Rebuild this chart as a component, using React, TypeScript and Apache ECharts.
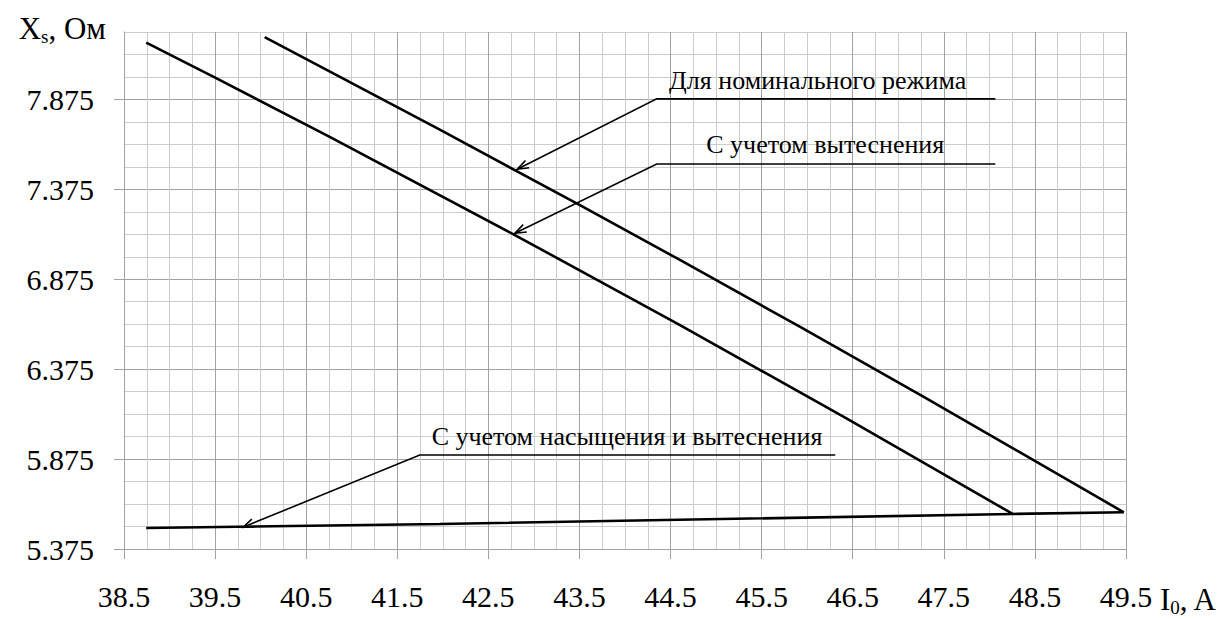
import React, { useEffect, useRef } from "react";
import * as echarts from "echarts";

// Tick labels
const xTickLabels = [38.5, 39.5, 40.5, 41.5, 42.5, 43.5, 44.5, 45.5, 46.5, 47.5, 48.5, 49.5];
const yTickLabels = [5.375, 5.875, 6.375, 6.875, 7.375, 7.875];

// "Для номинального режима"
const nominalI = [40.044, 41.967, 43.505, 44.568, 45.923, 47.275, 49.476];
const nominalX = [8.221, 7.707, 7.287, 6.992, 6.61, 6.223, 5.579];

// "С учетом вытеснения"
const displI = [38.744, 39.495, 40.758, 42.791, 44.604, 46.436, 48.256];
const displX = [8.191, 7.998, 7.667, 7.121, 6.62, 6.1, 5.57];

// "С учетом насыщения и вытеснения"
const satI = [38.744, 41.967, 48.256, 49.476];
const satX = [5.492, 5.514, 5.57, 5.579];

// Annotation anchors in data coordinates (I, Xs)
const annotationTexts = ["Для номинального режима", "С учетом вытеснения", "С учетом насыщения и вытеснения"];
const annotationTips = [[42.817, 7.487], [42.791, 7.131], [39.806, 5.496]];
const annotationElbows = [[44.348, 7.878], [44.348, 7.516], [41.747, 5.898]];
const annotationEnds = [[48.066, 7.878], [48.066, 7.516], [46.308, 5.898]];
const annotationLabels = [[46.115, 7.978], [46.198, 7.627], [44.022, 5.998]];

const FONT = "'Liberation Serif', 'Times New Roman', 'DejaVu Serif', serif";

function pairs(xs: number[], ys: number[]) {
  return xs.map((x, i) => [x, ys[i]]);
}

export default function App() {
  const ref = useRef<HTMLDivElement>(null);

  useEffect(() => {
    if (!ref.current) return;
    const chart = echarts.init(ref.current, undefined, { renderer: "svg" });
    const gridColors = ["#a2a2a2", "#cccccc", "#cccccc", "#cccccc"];
    const axisGrey = "#a2a2a2";
    const lineSeries = (name: string, data: number[][]) => ({
      name,
      type: "line",
      data,
      symbol: "none",
      xAxisIndex: 0,
      yAxisIndex: 0,
      lineStyle: { color: "#000", width: 2.6 },
      z: 5,
    });
    const mainText = { fontFamily: FONT, fontSize: 31, color: "#000" };
    const subText = { fontFamily: FONT, fontSize: 19, color: "#000", padding: [16, 0, 0, 0] };
    const option: any = {
      animation: false,
      backgroundColor: "#fff",
      textStyle: { fontFamily: FONT },
      grid: { left: 124, right: 101, top: 32, bottom: 70, containLabel: false, outerBoundsMode: "none" },
      xAxis: [
        {
          type: "value",
          min: 38.5,
          max: 49.5,
          interval: 0.25,
          axisLine: { show: true, lineStyle: { color: axisGrey, width: 1 } },
          axisTick: { show: false },
          axisLabel: { show: false },
          splitLine: { show: true, lineStyle: { color: gridColors, width: 1 } },
        },
        {
          type: "value",
          min: 38.5,
          max: 49.5,
          position: "bottom",
          name: "{a|I}{b|0}{a|, A}",
          nameLocation: "end",
          nameGap: 34,
          nameMoveOverlap: false,
          nameTextStyle: {
            align: "left",
            verticalAlign: "top",
            padding: [33, 0, 0, 0],
            rich: { a: mainText, b: subText },
          },
          axisLine: { show: false },
          axisTick: { show: true, customValues: xTickLabels, length: 10, lineStyle: { color: axisGrey } },
          axisLabel: {
            customValues: xTickLabels,
            margin: 32,
            fontFamily: FONT,
            fontSize: 30,
            color: "#000",
            formatter: (v: number) => String(v),
          },
          splitLine: { show: false },
        },
      ],
      yAxis: [
        {
          type: "value",
          min: 5.375,
          max: 8.25,
          interval: 0.125,
          axisLine: { show: true, lineStyle: { color: axisGrey, width: 1 } },
          axisTick: { show: false },
          axisLabel: { show: false },
          splitLine: { show: true, lineStyle: { color: gridColors, width: 1 } },
        },
        {
          type: "value",
          min: 5.375,
          max: 8.25,
          position: "left",
          name: "{a|X}{b|s}{a|, Ом}",
          nameLocation: "end",
          nameGap: 4,
          nameMoveOverlap: false,
          nameTextStyle: {
            align: "right",
            verticalAlign: "middle",
            padding: [0, 18, 0, 0],
            rich: { a: mainText, b: subText },
          },
          axisLine: { show: false },
          axisTick: { show: true, customValues: yTickLabels, length: 10, lineStyle: { color: axisGrey } },
          axisLabel: {
            customValues: yTickLabels,
            margin: 30,
            fontFamily: FONT,
            fontSize: 30,
            color: "#000",
            formatter: (v: number) => v.toFixed(3),
          },
          splitLine: { show: false },
        },
      ],
      series: [
        lineSeries("Для номинального режима", pairs(nominalI, nominalX)),
        lineSeries("С учетом вытеснения", pairs(displI, displX)),
        lineSeries("С учетом насыщения и вытеснения", pairs(satI, satX)),
      ],
    };
    chart.setOption(option);

    const toPx = (p: number[]) => chart.convertToPixel({ xAxisIndex: 0, yAxisIndex: 0 }, p) as number[];
    const graphics: any[] = [];
    annotationTexts.forEach((text, i) => {
      const tip = toPx(annotationTips[i]);
      const elbow = toPx(annotationElbows[i]);
      const end = toPx(annotationEnds[i]);
      const lab = toPx(annotationLabels[i]);
      const dx = elbow[0] - tip[0];
      const dy = elbow[1] - tip[1];
      const len = Math.hypot(dx, dy);
      const ux = dx / len;
      const uy = dy / len;
      const L = 12;
      const th = (20 * Math.PI) / 180;
      const w1 = [tip[0] + L * (ux * Math.cos(th) - uy * Math.sin(th)), tip[1] + L * (ux * Math.sin(th) + uy * Math.cos(th))];
      const w2 = [tip[0] + L * (ux * Math.cos(-th) - uy * Math.sin(-th)), tip[1] + L * (ux * Math.sin(-th) + uy * Math.cos(-th))];
      graphics.push({
        type: "polyline",
        z: 20,
        shape: { points: [tip, elbow, end] },
        style: { stroke: "#000", lineWidth: 1.6, fill: null },
      });
      graphics.push({
        type: "polyline",
        z: 20,
        shape: { points: [w1, tip, w2] },
        style: { stroke: "#000", lineWidth: 1.6, fill: null },
      });
      graphics.push({
        type: "text",
        z: 20,
        x: lab[0],
        y: lab[1],
        style: {
          text,
          fontFamily: FONT,
          fontSize: 26,
          fill: "#000",
          align: "center",
          verticalAlign: "middle",
          textAlign: "center",
          textVerticalAlign: "middle",
        },
      });
    });
    chart.setOption({ graphic: graphics });

    return () => chart.dispose();
  }, []);

  return <div ref={ref} style={{ position: "fixed", left: 0, top: 0, width: 1227, height: 619 }} />;
}
